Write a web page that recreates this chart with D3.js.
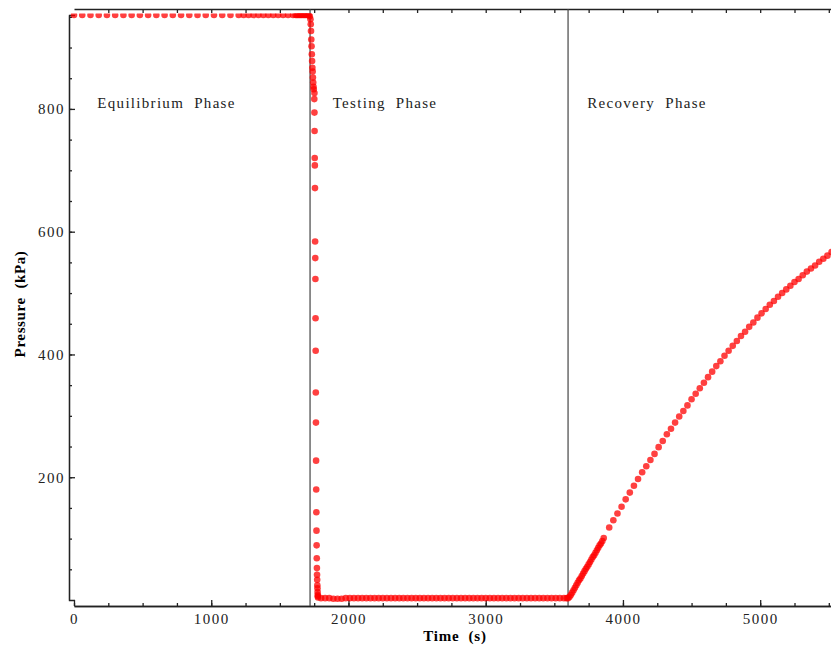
<!DOCTYPE html>
<html>
<head>
<meta charset="utf-8">
<script src="https://cdn.jsdelivr.net/npm/d3@7"></script>
<style>
  body { margin: 0; background: #fff; }
  svg { display: block; font-family: "Liberation Serif", "Times New Roman", serif; }
</style>
</head>
<body>
<svg id="chart" width="831" height="648"></svg>
<script>
// equilibrium phase (s, kPa)
const eqTime = [0, 60, 120, 180, 240, 300, 360, 420, 480, 540, 600, 660, 720, 780, 840, 900, 960, 1020,
  1080, 1140, 1200, 1236, 1272, 1308, 1344, 1380, 1416, 1452, 1488, 1524, 1560, 1596, 1615, 1625,
  1635, 1645, 1655, 1665, 1675, 1685, 1695, 1705, 1712, 1718];
const eqPressure = [953, 953, 953, 953, 953, 953, 953, 953, 953, 953, 953, 953, 953, 953, 953, 953, 953, 953,
  953, 953, 953, 953, 953, 953, 953, 953, 953, 953, 953, 953, 953, 953, 953, 953,
  953, 953, 953, 953, 953, 953, 953, 953, 953, 951];

// testing phase: the drawdown then the flat part
const testTime = [1723, 1725, 1727, 1729, 1731, 1733, 1735, 1737, 1739, 1741, 1743, 1745, 1747,
  1752, 1751, 1752, 1753, 1754, 1755, 1756, 1757, 1758, 1759, 1760, 1761, 1762, 1763, 1764, 1765,
  1766, 1767, 1768, 1769, 1770, 1771, 1772, 1773, 1774, 1775, 1776, 1777, 1778,
  1800, 1830, 1860, 1890, 1920, 1950, 1980, 2010, 2040, 2070, 2100, 2130, 2160, 2190, 2220, 2250,
  2280, 2310, 2340, 2370, 2400, 2430, 2460, 2490, 2520, 2550, 2580, 2610, 2640, 2670, 2700, 2730,
  2760, 2790, 2820, 2850, 2880, 2910, 2940, 2970, 3000, 3030, 3060, 3090, 3120, 3150, 3180, 3210,
  3240, 3270, 3300, 3330, 3360, 3390, 3420, 3450, 3480, 3510, 3540, 3570, 3590];
const testPressure = [946, 938, 927, 913, 902, 889, 878, 867, 861, 851, 843, 836, 832,
  826, 816, 794, 764, 720, 708, 671, 584, 557, 523, 459, 406, 338, 289, 227, 180,
  143, 113, 89, 68, 52, 41, 33, 24, 19, 13, 8, 6, 4,
  3, 3, 3, 2, 2, 2, 3, 3, 3, 3, 3, 3, 3, 3, 3, 3,
  3, 3, 3, 3, 3, 3, 3, 3, 3, 3, 3, 3, 3, 3, 3, 3,
  3, 3, 3, 3, 3, 3, 3, 3, 3, 3, 3, 3, 3, 3, 3, 3,
  3, 3, 3, 3, 3, 3, 3, 3, 3, 3, 3, 3, 3];

// recovery phase
const recTime = [3600, 3610, 3620, 3630, 3640, 3650, 3660, 3670, 3680, 3690, 3700, 3710, 3720, 3730,
  3740, 3750, 3760, 3770, 3780, 3790, 3800, 3810, 3820, 3830, 3840, 3850, 3860,
  3900, 3930, 3960, 3990, 4020, 4050, 4080, 4110, 4140, 4170, 4200, 4230, 4260, 4290, 4320, 4350,
  4380, 4410, 4440, 4470, 4500, 4530, 4560, 4590, 4620, 4650, 4680, 4710, 4740, 4770, 4800, 4830,
  4860, 4890, 4920, 4950, 4980, 5010, 5040, 5070, 5100, 5130, 5160, 5190, 5220, 5250, 5280, 5310,
  5340, 5370, 5400, 5430, 5460, 5490, 5520];
const recPressure = [3, 5, 8, 12, 16, 20, 24, 28, 32, 35, 39, 43, 47, 51,
  54, 58, 62, 66, 70, 73, 77, 81, 85, 89, 92, 96, 101,
  118, 130, 141, 152, 164, 175, 186, 197, 208, 218, 228, 238, 249, 259, 270, 279,
  289, 299, 308, 317, 327, 336, 345, 354, 363, 372, 381, 389, 398, 406, 414, 422,
  430, 437, 445, 452, 460, 467, 474, 481, 487, 494, 500, 506, 512, 518, 523, 529,
  535, 540, 545, 551, 556, 561, 567];

const phaseBounds = [1720, 3600];
const phaseNames = ["Equilibrium  Phase", "Testing  Phase", "Recovery  Phase"];
const phaseLabelTime = [170, 1885, 3740];
const xLabelTicks = [0, 1000, 2000, 3000, 4000, 5000];
const yLabelTicks = [200, 400, 600, 800];

const svg = d3.select("#chart");
const margin = { top: 9, left: 69, bottom: 606 };

const x = d3.scaleLinear().domain([0, 5516]).range([74, 831]);
const y = d3.scaleLinear().domain([0, 953]).range([600, 15]);

// bottom axis, minor then major
svg.append("g")
  .attr("transform", `translate(0,${margin.bottom})`)
  .call(d3.axisBottom(x).tickValues(d3.range(0, 5516, 250)).tickSize(-3).tickSizeOuter(0).tickFormat(""));
svg.append("g")
  .attr("transform", `translate(0,${margin.bottom})`)
  .call(d3.axisBottom(x).tickValues(xLabelTicks).tickSize(-6)
    .tickSizeOuter(0).tickPadding(7).tickFormat(d3.format("d")));

// top frame
svg.append("g")
  .attr("transform", `translate(0,${margin.top})`)
  .call(d3.axisTop(x).tickValues(d3.range(250, 5516, 250)).tickSize(-4).tickSizeOuter(0).tickFormat(""));

// left axis
svg.append("g")
  .attr("transform", `translate(${margin.left},0)`)
  .call(d3.axisLeft(y).tickValues(d3.range(50, 951, 50)).tickSize(-3).tickSizeOuter(0).tickFormat(""));
svg.append("g")
  .attr("transform", `translate(${margin.left},0)`)
  .call(d3.axisLeft(y).tickValues(yLabelTicks).tickSize(-6).tickSizeOuter(-6).tickPadding(4)
    .tickFormat(d3.format("d")));

svg.selectAll(".domain, .tick line").attr("stroke", "#222").attr("stroke-width", 1.3);
svg.selectAll(".tick text")
  .attr("font-family", "Liberation Serif")
  .attr("font-size", 15)
  .attr("fill", "#222")
  .style("letter-spacing", "1.5px");

// phase dividers
svg.selectAll(".divider")
  .data(phaseBounds)
  .join("line")
  .attr("class", "divider")
  .attr("x1", d => x(d)).attr("x2", d => x(d))
  .attr("y1", margin.top).attr("y2", margin.bottom)
  .attr("stroke", "#444")
  .attr("stroke-width", 1.2);

svg.selectAll(".phase")
  .data(phaseNames)
  .join("text")
  .attr("class", "phase")
  .attr("x", (d, i) => x(phaseLabelTime[i]))
  .attr("y", 108)
  .attr("font-family", "Liberation Serif")
  .attr("font-size", 15)
  .attr("fill", "#222")
  .style("letter-spacing", "1.3px")
  .style("white-space", "pre")
  .text(d => d);

// points, clipped at the top of the y axis
svg.append("clipPath").attr("id", "plotClip")
  .append("rect").attr("x", 0).attr("y", 13.5).attr("width", 831).attr("height", 640);

const pts = [];
eqTime.forEach((t, i) => pts.push([t, eqPressure[i]]));
testTime.forEach((t, i) => pts.push([t, testPressure[i]]));
recTime.forEach((t, i) => pts.push([t, recPressure[i]]));

svg.append("g")
  .attr("clip-path", "url(#plotClip)")
  .selectAll("circle")
  .data(pts)
  .join("circle")
  .attr("cx", d => x(d[0]))
  .attr("cy", d => y(d[1]))
  .attr("r", 3.3)
  .attr("fill", "#ff0000")
  .attr("fill-opacity", 0.75);

// axis titles
svg.append("text")
  .attr("x", 455)
  .attr("y", 641)
  .attr("text-anchor", "middle")
  .attr("font-family", "Liberation Serif")
  .attr("font-size", 15)
  .attr("font-weight", "bold")
  .style("letter-spacing", "0.8px")
  .style("white-space", "pre")
  .text("Time  (s)");

svg.append("text")
  .attr("transform", "translate(25,304) rotate(-90)")
  .attr("text-anchor", "middle")
  .attr("font-family", "Liberation Serif")
  .attr("font-size", 15)
  .attr("font-weight", "bold")
  .style("letter-spacing", "0.6px")
  .style("white-space", "pre")
  .text("Pressure  (kPa)");
</script>
</body>
</html>
